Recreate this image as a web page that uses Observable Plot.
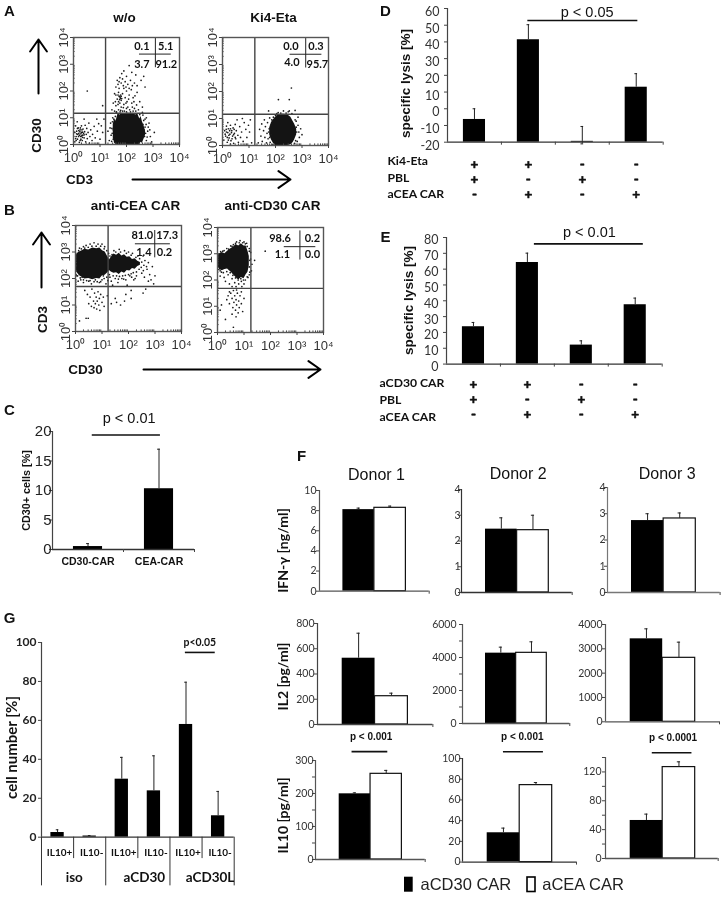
<!DOCTYPE html>
<html><head><meta charset="utf-8">
<script src="https://cdn.jsdelivr.net/npm/d3@7"></script>
<script src="https://cdn.jsdelivr.net/npm/@observablehq/plot@0.6"></script>
<style>html,body{margin:0;padding:0;background:#fff;overflow:hidden}#page{position:relative;width:724px;height:897px;overflow:hidden;filter:blur(.3px)}</style>
</head><body><div id="page"></div>
<script>
// ---- flow cytometry: all values are log10 decades ----
const a1Cells=[[.05,.1],[.1,.3],[.12,.5],[.15,.2],[.18,.62],[.2,.42],[.22,.08],[.25,.55],[.27,.3],[.3,.45],[.3,.7],[.33,.15],[.35,.35],[.36,.58],[.4,.25],[.42,.48],[.44,.72],[.46,.1],[.48,.38],[.5,.6],[.52,.22],[.55,.45],[.58,.8],[.6,.05],[.62,.3],[.65,.55],[.7,.15],[.72,.38],[.78,.68],[.82,.25],[.88,.95],[.9,.5],[.05,.45],[.08,.7],[.14,.85],[.22,.35],[.28,.2],[.32,.55],[.38,.42],[.24,.48],[.16,.38],[.3,.32],[.26,.62],[.1,.15],[1,.2],[1.05,.7],[.95,.78],[1.1,.45],[1.15,.95],[.4,.95],[.52,2],[1.1,1.45],[.2,.52],[.28,.4],[.34,.27],[.12,.4],[.19,.3],[.4,.36],[.25,.15],[.08,.22],[.34,.46],[.15,.6],
[1.45,1.3],[1.5,1.55],[1.55,1.9],[1.55,1.25],[1.6,1.45],[1.6,2.15],[1.65,2.4],[1.65,1.7],[1.7,1.3],[1.7,1.95],[1.72,2.1],[1.75,1.55],[1.75,1.8],[1.75,2.5],[1.78,1.72],[1.78,1.85],[1.8,1.65],[1.8,1.4],[1.8,2.3],[1.82,2.65],[1.85,1.9],[1.85,1.25],[1.85,2.45],[1.9,1.5],[1.9,2.1],[1.9,2.75],[1.95,1.75],[1.95,2.35],[2,1.35],[2,2],[2,2.55],[2.02,1.6],[2.05,2.25],[2.1,1.85],[2.1,2.95],[2.12,1.3],[2.15,2.4],[2.18,2.05],[2.2,1.55],[2.2,2.7],[2.25,1.75],[2.3,1.35],[2.3,2.3],[2.35,2.6],[2.4,1.95],[2.45,1.3],[2.5,1.6],[2.55,2.4],[2.65,2.55],[2.7,2.15],[2.6,1.4],[1.72,1.8],[1.76,1.75],[1.8,1.8],[1.7,1.6],[1.68,1.85],[1.74,1.68],[1.82,1.72],[1.62,1.22],[1.68,1.5],[1.78,1.28],[1.88,1.38],[1.92,1.25],[1.98,1.55],[2.05,1.4],[2.08,1.7],[2.15,1.22],[2.22,1.4],[2.28,1.6],[2.35,1.25],[2.38,1.48],[1.72,2.35],[1.88,2.2],[1.98,2.15],[2.1,2.1],[2.22,2.2],[1.6,1.85],[1.58,1.6],[1.68,2.25],[2.32,1.82],[2.4,2.2],[1.76,1.22],[2,1.22],[2.25,1.25],
[1.3,.5],[1.35,.15],[1.4,.8],[1.42,.35],[1.45,.6],[1.48,1],[1.5,.2],[1.52,.75],[2.65,.9],[2.68,.3],[2.7,.65],[2.75,.15],[2.8,.5],[2.85,.8],[2.9,.3],[2.62,1.1],[2.75,1],[2.95,.1],[3.05,.45],[1.52,.95],[2.62,.75],[1.58,1.05],[1.62,1.2],[2.5,1.12],[1.38,.62],[1.44,.12],[1.46,.42],[1.5,.55],[1.53,.32],[1.56,.9],[2.72,.42],[2.74,.75],[2.78,.28],[2.82,.65],[2.7,.95],[2.66,.55],[2.88,.55],[2.6,1.2],[1.47,.85]];
const a1CoreX=[1.5,1.55,1.6,1.68,1.75,1.85,1.95,2.05,2.15,2.25,2.35,2.42,2.5,2.55,2.6,2.66,2.72];
const a1CoreLo=[.25,.05,0,0,0,0,0,0,0,0,0,0,0,.08,.05,.2,.35];
const a1CoreHi=[.75,.95,.85,1.15,1.1,1.17,1.15,1.17,1.15,1.17,1.1,1.16,.95,1.05,.85,.7,.5];
const a2Cells=[[.05,.2],[.08,.55],[.12,.35],[.15,.72],[.18,.12],[.2,.48],[.22,.62],[.25,.28],[.28,.42],[.3,.75],[.32,.18],[.35,.55],[.38,.35],[.4,.65],[.42,.08],[.45,.45],[.48,.78],[.5,.25],[.52,.55],[.55,.95],[.58,.38],[.6,.12],[.65,.7],[.68,.3],[.72,.5],[.75,1],[.78,.15],[.82,.85],[.88,.6],[.92,.3],[.98,.75],[1.02,.5],[1.05,.95],[.3,.05],[.15,.5],[.24,.38],[.34,.48],[.44,.6],[.2,.85],[1.1,.1],[1.35,.1],[.1,.42],[.18,.3],[.27,.55],[.36,.25],[.42,.4],[.14,.6],[.3,.62],[.22,.2],[.48,.3],
[1.4,.6],[1.45,.35],[1.48,.8],[1.5,.15],[1.55,.55],[1.58,.95],[1.6,.3],[1.62,.7],[1.66,.1],[1.68,.45],[1.7,.85],[1.72,.25],[1.76,.62],[1.78,1.02],[1.8,.12],[1.84,.4],[2.8,.5],[2.85,.75],[2.9,.3],[2.95,.62],[3,.4],[2.78,.9],[2.82,.15],[2.85,1.05],[1.74,.5],[1.78,.3],[1.82,.75],[1.86,.95],[1.9,.02],[1.92,1.05],[2.78,.68],[2.74,.95],[2.76,.18],[2.72,.08],[2.88,.5],[2,1.12],
[2.6,2.13],[2.11,1.7],[2.52,1.7],[1.74,1.28],[2.3,1.28],[2.52,1.28],[2.74,1.3],[2.1,1.22],[2.2,1.2],[2.4,1.2],[2.05,1.18],[2.62,1.18],[2.48,1.25]];
const a2CoreX=[1.78,1.85,1.92,2,2.08,2.18,2.28,2.38,2.48,2.58,2.66,2.72,2.8];
const a2CoreLo=[.4,.2,.08,0,0,0,0,0,0,.03,.1,.2,.4];
const a2CoreHi=[.65,.85,.95,1.05,1.12,1.15,1.16,1.15,1.12,1.05,.9,.8,.6];
const b1Cells=[[.05,2.1],[.1,1.9],[.15,3.15],[.2,1.95],[.3,3.2],[.3,1.85],[.4,3.25],[.5,1.9],[.55,3.3],[.6,1.8],[.7,3.35],[.75,1.95],[.85,3.3],[.9,1.85],[1,3.3],[1,1.95],[1.1,3.2],[1.15,1.8],[1.25,2.95],[1.3,2.05],[1.35,1.9],[1.45,3.05],[1.5,2],[1.6,1.85],[1.65,3.1],[1.75,2],[1.85,3.05],[1.9,1.95],[2,3],[2.05,2.1],[2.15,2.95],[2.2,1.95],[2.3,2.1],[2.35,2.85],[2.5,2.2],[2.55,2.85],[2.6,2.05],[2.7,2.35],[2.75,2.6],[2.8,2.15],[2.85,1.95],[2.9,2.45],[2.95,1.8],[3,2.1],[2.75,1.9],[1.95,1.75],[1.4,1.75],[.25,2.05],[.65,2.05],[1.05,2.1],
[.12,3.05],[.22,3.12],[.35,3.15],[.48,3.18],[.62,3.22],[.78,3.22],[.95,3.22],[1.08,3.12],[1.18,3.05],[1.3,2.85],[1.38,2.9],[1.52,3],[1.7,3],[1.92,2.95],[2.1,2.88],[2.28,2.8],[2.42,2.75],[2.5,2.62],[2.58,2.5],[2.62,2.68],[2.68,2.45],[2.56,2.3],[2.48,2.42],[2.4,2.35],[2.3,2.25],[2.18,2.22],[2.1,2.18],[2,2.15],[1.88,2.12],[1.78,2.1],[1.66,2.08],[1.55,2.1],[1.42,2.1],[1.28,2.15],[1.18,2.05],[1.08,2],[.95,1.88],[.82,1.88],[.7,1.88],[.55,1.92],[.42,1.92],[.3,1.95],[.18,2.02],[.08,2.1],[.02,2.15],[1.22,1.92],[1.62,1.98],[1.82,1.98],[2.12,2.05],[2.25,2],
[.35,1.55],[.45,1.4],[.5,1.05],[.55,1.3],[.6,.95],[.62,1.6],[.68,1.15],[.7,.9],[.72,1.45],[.75,1.05],[.78,1.3],[.8,.85],[.82,1.15],[.85,1.5],[.88,1],[.9,1.25],[.92,.8],[.95,1.4],[1,1.1],[1.05,1.3],[1.08,.95],[.15,.4],[.4,.5],[.48,.5],[1.2,1.35],[1.35,1.05],[1.5,1.25],[1.55,1.1],[1.7,1],[1.85,1.15],[1.9,1.4],[2.1,1.25],[2.1,1.55],[2.55,1.45],[2.65,1.6]];
const b1CoreX=[0,.08,.15,.25,.35,.5,.65,.8,.92,1.02,1.12,1.2,1.28,1.35,1.45,1.55,1.65,1.75,1.85,1.95,2.05,2.15,2.25,2.35,2.45];
const b1CoreLo=[2.3,2.2,2.1,2.05,1.98,2,1.95,2,1.98,2.1,2.12,2.2,2.3,2.25,2.2,2.22,2.15,2.25,2.2,2.3,2.28,2.38,2.35,2.45,2.5];
const b1CoreHi=[2.85,2.95,3,3.05,3.1,3.08,3.15,3.12,3.15,3.05,3,2.85,2.7,2.8,2.92,2.88,2.95,2.85,2.9,2.8,2.82,2.72,2.75,2.65,2.6];
const b2Cells=[[.1,2.15],[.15,2.3],[.2,3.1],[.25,2.1],[.3,1.95],[.35,3.2],[.4,2.2],[.45,1.85],[.5,3.3],[.55,2.05],[.55,1.75],[.6,3.35],[.65,1.9],[.7,1.75],[.72,3.45],[.75,2.1],[.8,1.85],[.85,3.5],[.9,1.95],[.92,1.75],[1,3.45],[1,1.85],[1.05,2],[1.1,3.4],[1.15,2.1],[1.2,3.2],[1.22,2.3],[1.25,2.8],[1.3,2.6],[1.28,2.35],[1.4,2.75],[1.8,3.1],[1.2,2.5],[1.25,3.05],[.05,2.4],[.02,3],[.12,3.08],[.25,3.12],[.42,3.18],[.55,3.28],[.68,3.4],[.82,3.42],[.95,3.42],[1.05,3.38],[1.12,3.28],[1.2,3.1],[1.22,2.75],[1.2,2.2],[1.12,2.12],[.98,2],[.88,2.05],[.78,2],[.68,2.08],[.58,2.18],[.48,2.28],[.35,2.32],[.22,2.28],[.1,2.35],
[.15,1.05],[.1,.85],[.3,.5],[.35,1.25],[.4,1.4],[.45,1.1],[.5,1.5],[.55,1.3],[.58,.95],[.6,1.6],[.62,1.15],[.65,1.4],[.68,.85],[.7,1.25],[.72,1.05],[.75,1.5],[.78,.75],[.8,1.2],[.82,.95],[.85,1.4],[.6,.2],[.9,1.1],[.95,.8],[1,1.3],[.7,.6],[.55,.7],[.45,1.55],[.72,1.62],[.9,1.55]];
const b2CoreX=[0,.08,.18,.28,.38,.45,.52,.6,.7,.8,.9,1,1.08,1.15,1.2];
const b2CoreLo=[2.55,2.4,2.35,2.4,2.42,2.35,2.3,2.2,2.1,2,2.1,2.05,2.2,2.3,2.55];
const b2CoreHi=[2.9,3,3.05,3,3.1,3.15,3.2,3.25,3.35,3.3,3.38,3.3,3.3,3.1,2.9];
const decades=[0,1,2,3,4];
const decadeLabels=["10⁰","10¹","10²","10³","10⁴"];
const a1Stats=["0.1","5.1","3.7","91.2"], a2Stats=["0.0","0.3","4.0","95.7"], b1Stats=["81.0","17.3","1.4","0.2"], b2Stats=["98.6","0.2","1.1","0.0"];

// ---- bar panels ----
const carCategories=["CD30-CAR","CEA-CAR"], cValues=[.5,10.3], cUpper=[1,17];
const dValues=[-6.4,41.3,-19.5,12.9], dUpper=[0,50.3,-10.6,21], dLower=[null,null,-21,null];
const eValues=[23.6,64.2,12,37.5], eUpper=[26.3,70.1,14.7,41.7];
const kiSigns=["+","+","-","-"], pblSigns=["+","-","+","-"], ceaSigns=["-","+","-","+"];
const gCategories=["IL10+","IL10-","IL10+","IL10-","IL10+","IL10-"], gGroups=["iso","aCD30","aCD30L"];
const gValues=[2.4,.6,29.8,23.8,57.9,11], gUpper=[3.8,.85,41,41.8,79.6,23.5];
const donors=["Donor 1","Donor 2","Donor 3"], carSeries=["aCD30 CAR","aCEA CAR"];
const ifnValues=[[8.1,8.28],[2.46,2.42],[2.74,2.82]], ifnUpper=[[8.25,8.45],[2.9,3],[3,3.03]];
const il2Values=[[525,224],[4263,4283],[3411,2630]], il2Upper=[[723,248],[4626,4950],[3822,3274]];
const il10Values=[[199,259.6],[28.3,74.3],[52.7,126.7]], il10Upper=[[202,270],[32.8,76.8],[61.5,134]];

const page=document.getElementById("page");
const SANS="Liberation Sans", LATO="Lato";
const logx=d=>10**d;

function place(box,m,opts){
  const {l,t,r,b}=box;
  const svg=Plot.plot({
    width:r-l+m.left+m.right,height:b-t+m.top+m.bottom,
    marginLeft:m.left,marginRight:m.right,marginTop:m.top,marginBottom:m.bottom,
    ...opts,
    style:{background:"transparent",overflow:"visible",position:"absolute",left:(l-m.left)+"px",top:(t-m.top)+"px",maxWidth:"none",...opts.style}
  });
  page.appendChild(svg);
}

function flow(box,cells,cx,lo,hi,gate,stats,statX,statY,cross){
  const core=cx.map((x,i)=>({x:logx(x),lo:logx(lo[i]),hi:logx(hi[i])}));
  const pts=cells.map(([x,y])=>({x:logx(x),y:logx(y)}));
  const minor=[]; for(let d=0;d<4;d++) for(let k=2;k<10;k++) minor.push(k*10**d);
  const quad=stats.map((s,i)=>({s,x:logx(statX[i]),y:logx(statY[i])}));
  const fmt=v=>decadeLabels[Math.round(Math.log10(v))];
  place(box,{left:28,right:14,top:14,bottom:28},{
    x:{type:"log",domain:[1,1e4],axis:null},
    y:{type:"log",domain:[1,1e4],axis:null},
    style:{fontFamily:SANS,fontSize:"13px"},
    marks:[
      Plot.areaY(core,{x:"x",y1:"lo",y2:"hi",fill:"#141414"}),
      Plot.dot(pts,{x:"x",y:"y",r:.85,fill:"#1a1a1a"}),
      Plot.ruleX([logx(gate[0])],{stroke:"#444",strokeWidth:1.4}),
      Plot.ruleY([logx(gate[1])],{stroke:"#444",strokeWidth:1.4}),
      Plot.ruleX(minor,{y1:1,y2:logx(.06),stroke:"#444"}),
      Plot.ruleY(minor,{x1:1,x2:logx(.06),stroke:"#444"}),
      Plot.frame({stroke:"#555",strokeWidth:1.4}),
      Plot.axisX({ticks:decades.map(logx),anchor:"bottom",label:null,tickSize:3,tickPadding:5,stroke:"#444",fill:"#333",tickFormat:fmt}),
      Plot.axisY({ticks:decades.map(logx),anchor:"left",label:null,tickSize:3,tickPadding:3,tickRotate:-90,stroke:"#444",fill:"#333",tickFormat:fmt}),
      Plot.ruleX([logx(cross.x)],{y1:logx(cross.y1),y2:logx(cross.y2),stroke:"#222"}),
      Plot.ruleY([logx(cross.y)],{x1:logx(cross.x1),x2:logx(cross.x2),stroke:"#222"}),
      Plot.text(quad,{x:"x",y:"y",text:"s",fontFamily:LATO,fontWeight:700,fontSize:11,fill:"#111"})
    ]
  });
}
flow({l:73,t:37,r:179,b:144},a1Cells,a1CoreX,a1CoreLo,a1CoreHi,[1.21,1.17],a1Stats,[2.58,3.48,2.58,3.5],[3.68,3.68,3,3],{x:3.09,y1:2.87,y2:3.96,y:3.38,x1:2.49,x2:3.69});
flow({l:222,t:37,r:328,b:145},a2Cells,a2CoreX,a2CoreLo,a2CoreHi,[1.22,1.16],a2Stats,[2.58,3.53,2.62,3.58],[3.68,3.68,3.06,3],{x:3.14,y1:2.87,y2:3.96,y:3.38,x1:2.55,x2:3.75});
flow({l:75,t:225,r:181,b:331},b1Cells,b1CoreX,b1CoreLo,b1CoreHi,[1.23,1.7],b1Stats,[2.52,3.46,2.58,3.36],[3.62,3.62,2.99,2.99],{x:2.99,y1:2.78,y2:3.81,y:3.31,x1:2.26,x2:3.58});
flow({l:217,t:227,r:323,b:332},b2Cells,b2CoreX,b2CoreLo,b2CoreHi,[1.26,1.68],b2Stats,[2.36,3.58,2.45,3.58],[3.6,3.6,2.99,2.99],{x:3.11,y1:2.76,y2:3.87,y:3.27,x1:2.52,x2:3.71});

function bars(box,o){
  const {lo,hi,values,upper,lower,centers,barW,xdom,capW=.06}=o;
  const rows=values.map((v,i)=>({c:centers[i],v,e:upper[i],low:lower?lower[i]:null,white:o.white?o.white[i]:false}));
  const marks=[
    Plot.rectY(rows.filter(d=>!d.white),{x1:d=>d.c-barW/2,x2:d=>d.c+barW/2,y1:lo,y2:"v",fill:"#000"}),
    Plot.rectY(rows.filter(d=>d.white),{x1:d=>d.c-barW/2,x2:d=>d.c+barW/2,y1:lo,y2:"v",fill:"#fff",stroke:"#111",strokeWidth:1.2}),
    Plot.ruleX(rows,{x:"c",y1:"v",y2:"e",stroke:"#222"}),
    Plot.ruleY(rows,{y:"e",x1:d=>d.c-capW,x2:d=>d.c+capW,stroke:"#222"}),
    Plot.ruleX(rows.filter(d=>d.low!=null),{x:"c",y1:"v",y2:"low",stroke:"#222"}),
    Plot.ruleY(rows.filter(d=>d.low!=null),{y:"low",x1:d=>d.c-capW,x2:d=>d.c+capW,stroke:"#222"}),
    Plot.ruleX([xdom[0]],{y1:lo,y2:hi,stroke:o.axisColor||"#444",strokeWidth:1.2}),
    Plot.ruleY([lo],{x1:xdom[0],x2:xdom[1],stroke:o.axisColor||"#333",strokeWidth:1.3}),
    Plot.axisX({ticks:o.xTicks,anchor:"bottom",label:null,tickSize:3,fill:"none",stroke:"#444"}),
    Plot.axisY({ticks:o.minor||o.ticks,anchor:"left",label:null,tickSize:3,fill:"none",stroke:"#444"}),
    Plot.axisY({ticks:o.ticks,anchor:"left",label:null,tickSize:0,tickPadding:o.pad??5,dy:o.labelDy||0,tickFormat:d=>String(d),fill:o.labelColor||"#222"})
  ];
  if(o.sig) marks.push(
    Plot.ruleY([o.sig.y],{x1:o.sig.x1,x2:o.sig.x2,stroke:"#111",strokeWidth:1.6}),
    Plot.text([o.sig.label],{x:o.sig.tx,y:o.sig.y,dy:o.sig.dy,text:d=>d,fontFamily:o.sig.family||SANS,fontWeight:o.sig.weight||400,fontSize:o.sig.size||14,fill:"#111"})
  );
  place(box,{left:46,right:12,top:24,bottom:10},{
    x:{domain:xdom,axis:null},y:{domain:[lo,hi],axis:null},
    style:{fontFamily:o.family||LATO,fontSize:(o.size||13)+"px",fontWeight:o.weight||400},
    marks:marks.concat(o.extra||[])
  });
}
const slots=n=>d3.range(n).map(i=>i+.5);
function signRowAt(signs,base,dy){return Plot.text(signs,{x:(d,i)=>i+.5,y:()=>base,dy,text:d=>d,fontFamily:LATO,fontWeight:700,fontSize:13.5,fill:"#111",stroke:"#111",strokeWidth:.6});}

// C
bars({l:52,t:431,r:194,b:549},{lo:0,hi:20,values:cValues,upper:cUpper,centers:slots(2),barW:.41,xdom:[0,2],xTicks:[1,2],capW:.02,
  ticks:[0,5,10,15,20],family:SANS,size:15,pad:1,labelDy:0,
  sig:{x1:.56,x2:1.52,tx:1.08,y:19.4,dy:-17,label:"p < 0.01",size:14.5},
  extra:[Plot.text(carCategories,{x:(d,i)=>i+.5,y:()=>0,dy:12,text:d=>d,fontFamily:SANS,fontWeight:700,fontSize:10.5,fill:"#111"})]});
// D
bars({l:447.3,t:8,r:663,b:141.7},{lo:-20,hi:60,values:dValues,upper:dUpper,lower:dLower,centers:slots(4),barW:.41,xdom:[0,4],xTicks:[1,2,3,4],capW:.025,
  ticks:[-20,-10,0,10,20,30,40,50,60],size:12.5,pad:8,labelDy:3.5,labelColor:"#333",
  sig:{x1:1.49,x2:3.53,tx:2.59,y:52.8,dy:-8,label:"p < 0.05",size:14.5},
  extra:[signRowAt(kiSigns,-20,22),signRowAt(pblSigns,-20,37),signRowAt(ceaSigns,-20,52)]});
// E
bars({l:446,t:236.7,r:661.7,b:363.3},{lo:0,hi:80,values:eValues,upper:eUpper,centers:slots(4),barW:.41,xdom:[0,4],xTicks:[1,2,3,4],capW:.025,
  ticks:[0,10,20,30,40,50,60,70,80],size:12.5,pad:8,labelDy:3,labelColor:"#333",
  sig:{x1:1.63,x2:3.65,tx:2.65,y:76,dy:-11,label:"p < 0.01",size:14.5},
  extra:[signRowAt(kiSigns,0,21),signRowAt(pblSigns,0,36),signRowAt(ceaSigns,0,51)]});
// G
bars({l:41.3,t:642,r:234,b:836.7},{lo:0,hi:100,values:gValues,upper:gUpper,centers:slots(6),barW:.415,xdom:[0,6],xTicks:[],capW:.04,
  ticks:[0,20,40,60,80,100],size:12,weight:700,pad:5,
  sig:{x1:4.48,x2:5.41,tx:4.93,y:94.9,dy:-10,label:"p<0.05",family:LATO,weight:700,size:10.5},
  extra:[
    Plot.ruleX([1,3,5],{y1:0,y2:-11,stroke:"#333"}),
    Plot.ruleX([0,2,4,6],{y1:0,y2:-25,stroke:"#333"}),
    Plot.text(gCategories,{x:(d,i)=>i+.5,y:()=>0,dy:16,dx:2,text:d=>d,fontFamily:LATO,fontWeight:700,fontSize:10,fill:"#111"}),
    Plot.text(gGroups,{x:(d,i)=>[1.02,3.2,5.25][i],y:()=>0,dy:40,text:d=>d,fontFamily:LATO,fontWeight:700,fontSize:13.5,fill:"#111"})
  ]});

// F
function donorBars(box,barL,barR,lo,hi,vals,ups,ticks,minor,sig,pad,axisColor){
  const band=(barR-barL)/2;
  const xdom=[-(barL-box.l)/band,2+(box.r-barR)/band];
  bars(box,{lo,hi,values:vals,upper:ups,centers:[.5,1.5],barW:1,xdom,xTicks:[xdom[1]],capW:.05,white:[false,true],
    ticks,minor,size:10.5,pad,sig,labelColor:"#333",axisColor});
}
donorBars({l:319.3,t:490,r:429,b:590.7},342.7,405.7,0,10,ifnValues[0],ifnUpper[0],[0,2,4,6,8,10],null,null,3,"#555");
donorBars({l:461,t:489,r:571.7,b:592},485,548.3,0,4,ifnValues[1],ifnUpper[1],[0,1,2,3,4],null,null,1,"#333");
donorBars({l:606.7,t:487,r:719.3,b:592},630.7,695,0,4,ifnValues[2],ifnUpper[2],[0,1,2,3,4],null,null,2,"#777");
donorBars({l:317.3,t:622.7,r:432.7,b:723.7},342,407.7,0,800,il2Values[0],il2Upper[0],[0,200,400,600,800],null,null,3,"#444");
donorBars({l:462,t:624,r:569.3,b:723},485,546.3,0,6000,il2Values[1],il2Upper[1],[0,2000,4000,6000],[0,1000,2000,3000,4000,5000,6000],null,6,"#555");
donorBars({l:605.3,t:624,r:719.3,b:721.3},630,695,0,4000,il2Values[2],il2Upper[2],[0,1000,2000,3000,4000],null,null,3,"#555");
const boldP=(x1,x2,tx,y,dy,label)=>({x1,x2,tx,y,dy,label,family:SANS,weight:700,size:10});
donorBars({l:315.3,t:760,r:425,b:859},339,401.7,0,300,il10Values[0],il10Upper[0],[0,100,200,300],[0,50,100,150,200,250,300],boldP(.41,1.55,1.02,327,-15,"p < 0.001"),2,"#555");
donorBars({l:462,t:757.7,r:576,b:861.3},486.7,551.7,0,100,il10Values[1],il10Upper[1],[0,20,40,60,80,100],null,boldP(.5,1.73,1.08,106.5,-15,"p < 0.001"),2,"#333");
donorBars({l:605.3,t:756.7,r:718,b:857.7},630,695,0,140,il10Values[2],il10Upper[2],[0,40,80,120],[0,20,40,60,80,100,120,140],boldP(.68,1.9,1.32,146.5,-15,"p < 0.0001"),4,"#555");

// page-level annotation layer (panel letters, axis titles, arrows, legend)
const boldSans=[
 {t:"A",x:9,y:11,s:15},{t:"B",x:9,y:210,s:15},{t:"C",x:9,y:410,s:15},{t:"D",x:385,y:11,s:15},{t:"E",x:385,y:237,s:15},{t:"F",x:301,y:456,s:15},{t:"G",x:9,y:618,s:15},
 {t:"w/o",x:124,y:17,s:13.5},{t:"Ki4-Eta",x:273,y:17,s:13.5},{t:"anti-CEA CAR",x:135,y:205,s:13.5},{t:"anti-CD30 CAR",x:272,y:205,s:13.5},
 {t:"CD30",x:36,y:135,s:13.5,r:-90},{t:"CD3",x:79,y:179,s:13.5},{t:"CD3",x:42,y:319,s:13.5,r:-90},{t:"CD30",x:85,y:369,s:13.5},
 {t:"CD30+ cells [%]",x:26,y:490,s:10.8,r:-90},
 {t:"specific lysis [%]",x:405,y:83,s:13.5,r:-90},{t:"specific lysis [%]",x:408,y:300,s:13.5,r:-90}
];
const boldLato=[
 {t:"IFN-γ [ng/ml]",x:283,y:550,s:14,r:-90},{t:"IL2 [pg/ml]",x:283,y:676,s:14,r:-90},{t:"IL10 [pg/ml]",x:283,y:815,s:14,r:-90},
 {t:"cell number [%]",x:12,y:747,s:15,r:-90}
];
const rowLabels=[
 {t:"Ki4-Eta",x:387,y:161},{t:"PBL",x:387,y:178},{t:"aCEA CAR",x:387,y:194},
 {t:"aCD30 CAR",x:379,y:383},{t:"PBL",x:379,y:400},{t:"aCEA CAR",x:379,y:417}
];
const regular=[{t:donors[0],x:376,y:474},{t:donors[1],x:517.7,y:473},{t:donors[2],x:666.7,y:473}];
const legendText=[{t:carSeries[0],x:420,y:884},{t:carSeries[1],x:541.7,y:884}];
const arrows=[{x1:38,y1:93,x2:38,y2:39},{x1:132,y1:179,x2:290,y2:179},{x1:41,y1:287,x2:41,y2:232},{x1:143,y1:369,x2:320,y2:369}];
const swatches=[{x1:404,x2:412.7,y1:876.7,y2:891.7},{x1:527,x2:535,y1:877,y2:891.5}];
const enc=(o)=>({x:"x",y:"y",text:"t",rotate:d=>d.r||0,fontSize:d=>d.s,fill:"#111",...o});
page.appendChild(Plot.plot({
  width:724,height:897,margin:0,
  x:{domain:[0,724],range:[0,724],axis:null},y:{domain:[0,897],range:[0,897],axis:null},
  style:{background:"transparent",position:"absolute",left:0,top:0,maxWidth:"none",pointerEvents:"none"},
  marks:[
    Plot.text(boldSans,enc({fontFamily:SANS,fontWeight:700})),
    Plot.text(boldLato,enc({fontFamily:LATO,fontWeight:700})),
    Plot.text(rowLabels,{x:"x",y:"y",text:"t",textAnchor:"start",fontFamily:LATO,fontWeight:700,fontSize:12.2,fill:"#111"}),
    Plot.text(regular,{x:"x",y:"y",text:"t",fontFamily:SANS,fontSize:16,fill:"#111"}),
    Plot.text(legendText,{x:"x",y:"y",text:"t",textAnchor:"start",fontFamily:SANS,fontSize:16.5,fill:"#222"}),
    Plot.arrow(arrows,{x1:"x1",y1:"y1",x2:"x2",y2:"y2",stroke:"#000",strokeWidth:2,headLength:11,headAngle:70}),
    Plot.rect(swatches.slice(0,1),{x1:"x1",x2:"x2",y1:"y1",y2:"y2",fill:"#000"}),
    Plot.rect(swatches.slice(1),{x1:"x1",x2:"x2",y1:"y1",y2:"y2",fill:"#fff",stroke:"#000",strokeWidth:1.6})
  ]
}));
</script></body></html>
